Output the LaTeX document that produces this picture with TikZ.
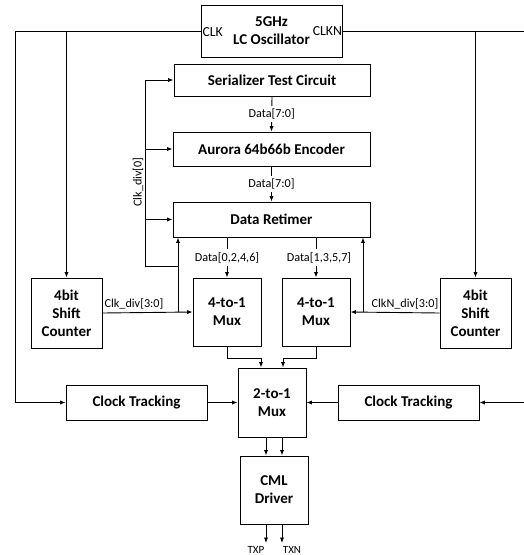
\documentclass[tikz,border=0pt]{standalone}
\usepackage{fontspec}
\setmainfont{Carlito}
\usetikzlibrary{arrows.meta,calc}
\begin{document}
\begin{tikzpicture}[x=1pt,y=-1pt,line width=0.9pt,
  box/.style={draw,inner sep=0pt,align=center,font=\bfseries\fontsize{15}{18}\selectfont},
  lbl/.style={font=\fontsize{12.2}{14}\selectfont,inner sep=1pt},
  dlbl/.style={lbl,fill=white,inner ysep=3pt},
  clbl/.style={font=\fontsize{13.8}{15}\selectfont,inner sep=1.5pt},
  arr/.style={-{Latex[length=5.5pt,width=4.2pt]}}]
\useasboundingbox (0,0) rectangle (524,555);

% blocks
\node[box,minimum width=141pt,minimum height=52pt] (osc) at (271.5,31) {5GHz\\LC Oscillator};
\node[box,minimum width=196pt,minimum height=32pt] (ser) at (272,80) {Serializer Test Circuit};
\node[box,minimum width=197pt,minimum height=34pt] (enc) at (271.5,149) {Aurora 64b66b Encoder};
\node[box,minimum width=197pt,minimum height=35pt] (ret) at (271.5,219.5) {Data Retimer};
\node[box,minimum width=71pt,minimum height=70pt] (cntL) at (66.5,313) {4bit\\Shift\\Counter};
\node[box,minimum width=71pt,minimum height=70pt] (cntR) at (475.5,313) {4bit\\Shift\\Counter};
\node[box,minimum width=68pt,minimum height=68pt] (muxL) at (227,312) {4-to-1\\Mux};
\node[box,minimum width=68pt,minimum height=68pt] (muxR) at (316,312) {4-to-1\\Mux};
\node[box,minimum width=68pt,minimum height=69pt] (mux2) at (272,402.5) {2-to-1\\Mux};
\node[box,minimum width=141pt,minimum height=35pt] (ctL) at (136.5,402.5) {Clock Tracking};
\node[box,minimum width=141pt,minimum height=35pt] (ctR) at (408.5,402.5) {Clock Tracking};
\node[box,minimum width=68pt,minimum height=68pt] (cml) at (274,490) {CML\\Driver};

% oscillator port labels
\node[clbl,anchor=west] (clk) at ($(osc.west)+(0,1.5)$) {CLK};
\node[clbl,anchor=east] (clkn) at ($(osc.east)+(1.5,0)$) {CLKN};

% rails
\coordinate (lrail) at (15,0);
\coordinate (rrail) at (524,0);
\draw[arr] (osc.west) -| (cntL.north);
\draw[arr] (osc.west) -| (lrail |- ctL.west) -- (ctL.west);
\draw[arr] (osc.east) -| (cntR.north);
\draw[arr] (osc.east) -| (rrail |- ctR.east) -- (ctR.east);

% data path
\draw[arr] (ser.south) -- node[dlbl] (d1) {Data[7:0]} (enc.north);
\draw[arr] (enc.south) -- node[dlbl] (d2) {Data[7:0]} (ret.north);
\draw[arr] (muxL.north |- ret.south) -- node[dlbl] (d3) {Data[0,2,4,6]} (muxL.north);
\draw[arr] (muxR.north |- ret.south) -- node[dlbl,xshift=3pt] (d4) {Data[1,3,5,7]} (muxR.north);

% divided clocks
\coordinate (bx) at (178,312);
\coordinate (by) at (178,266);
\coordinate (cx) at (145,266);
\coordinate (nx) at (363,312);
\draw[arr] (cntL.east) -- (muxL.west);
\node[lbl] (cdl) at (134,304) {Clk\_div[3:0]};
\draw[arr] (bx) -- (bx |- ret.south);
\draw (by) -- (cx) -- (cx |- ser.west);
\draw[arr] (cx |- ser.west) -- (ser.west);
\draw[arr] (cx |- enc.west) -- (enc.west);
\draw[arr] (cx |- ret.west) -- (ret.west);
\node[lbl,rotate=90] (cd0) at (138,182) {Clk\_div[0]};
\draw[arr] (cntR.west) -- (muxR.east);
\node[lbl] (cdr) at (405,304) {ClkN\_div[3:0]};
\draw[arr] (nx) -- (nx |- ret.south);

% mux outputs
\draw[arr] (muxL.south) -- ++(0,12) -| ([xshift=-11pt]mux2.north);
\draw[arr] (muxR.south) -- ++(0,12) -| ([xshift=11pt]mux2.north);
\draw[arr] (ctL.east) -- (mux2.west);
\draw[arr] (ctR.west) -- (mux2.east);
\draw[arr] ([xshift=-6pt]mux2.south) -- ([xshift=-8pt]cml.north);
\draw[arr] ([xshift=10pt]mux2.south) -- ([xshift=8pt]cml.north);

% outputs
\coordinate (txpe) at (266,543);
\coordinate (txne) at (282,543);
\draw[arr] ([xshift=-8pt]cml.south) -- (txpe);
\draw[arr] ([xshift=8pt]cml.south) -- (txne);
\node[lbl,font=\fontsize{11}{13}\selectfont] (txp) at (256,550) {TXP};
\node[lbl,font=\fontsize{11}{13}\selectfont] (txn) at (292,550) {TXN};
\end{tikzpicture}
\end{document}
